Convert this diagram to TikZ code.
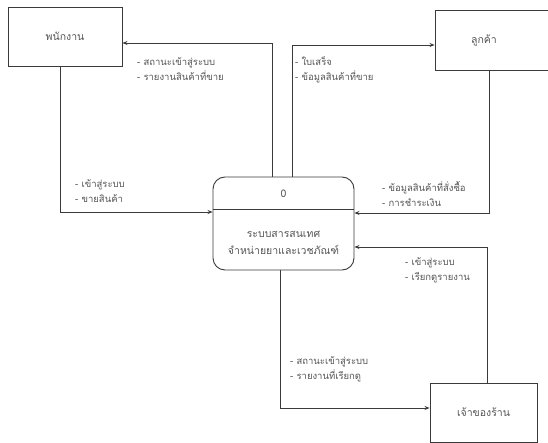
\documentclass[tikz,border=0pt]{standalone}
\usepackage{fontspec}
\newfontfamily\thaifont[Script=Thai]{Loma}
\usetikzlibrary{arrows.meta}
\definecolor{linec}{HTML}{3A3A3A}
\definecolor{textc}{HTML}{555555}
\tikzset{
  entity/.style={draw=linec, line width=0.9pt, rectangle, minimum width=#1, font=\thaifont\fontsize{10.5}{12}\selectfont, text=textc},
  entity/.default=114pt,
  procbox/.style={draw=linec, line width=0.9pt, rounded corners=12pt, rectangle, minimum width=141pt, minimum height=93pt},
  flow/.style={draw=linec, line width=0.8pt, -{Stealth[length=5pt,width=4pt]}},
  flowlabel/.style={anchor=west, align=left, inner sep=0pt, font=\thaifont\fontsize{9.5}{15}\selectfont, text=textc},
  proctext/.style={font=\thaifont\fontsize{10.5}{17}\selectfont, text=textc, align=center, inner sep=0pt}
}
\begin{document}
\begin{tikzpicture}[x=1pt,y=-1pt]
\useasboundingbox[fill=white] (0,0) rectangle (548,443);
% entities
\node[entity=114pt, minimum height=59pt] (emp) at (65,36.5) {พนักงาน};
\node[entity=122pt, minimum height=60pt] (cust) at (496,40) {};
\node[proctext] (custtxt) at (484,40) {ลูกค้า};
\node[entity=107pt, minimum height=59pt] (owner) at (483.5,412.5) {เจ้าของร้าน};
% process
\node[procbox] (proc) at (283.5,223.5) {};
\draw[draw=linec, line width=0.8pt] (proc.west |- 0,209) -- (proc.east |- 0,209);
\node[proctext] (pnum) at (283.5,194) {0};
\node[proctext] (pname) at (283.5,242.5) {ระบบสารสนเทศ\\จำหน่ายยาและเวชภัณฑ์};
% flows
\draw[flow] (proc.north -| 272,0) |- (emp.east |- 0,43);
\draw[flow] (emp.south -| 60,0) |- (proc.west |- 0,212);
\draw[flow] (proc.north -| 292,0) |- (cust.west |- 0,45);
\draw[flow] (cust.south -| 489,0) |- (proc.east |- 0,213);
\draw[flow] (owner.north -| 487,0) |- (proc.east |- 0,247);
\draw[flow] (proc.south -| 280,0) |- (owner.west |- 0,408);
% labels
\node[flowlabel] (l1) at (137,69.5) {- สถานะเข้าสู่ระบบ\\- รายงานสินค้าที่ขาย};
\node[flowlabel] (l2) at (295,69.5) {- ใบเสร็จ\\- ข้อมูลสินค้าที่ขาย};
\node[flowlabel] (l3) at (75,191) {- เข้าสู่ระบบ\\- ขายสินค้า};
\node[flowlabel] (l4) at (382,193.5) {- ข้อมูลสินค้าที่สั่งซื้อ\\- การชำระเงิน};
\node[flowlabel] (l5) at (405,270.5) {- เข้าสู่ระบบ\\- เรียกดูรายงาน};
\node[flowlabel] (l6) at (290,369.5) {- สถานะเข้าสู่ระบบ\\- รายงานที่เรียกดู};
\end{tikzpicture}
\end{document}
